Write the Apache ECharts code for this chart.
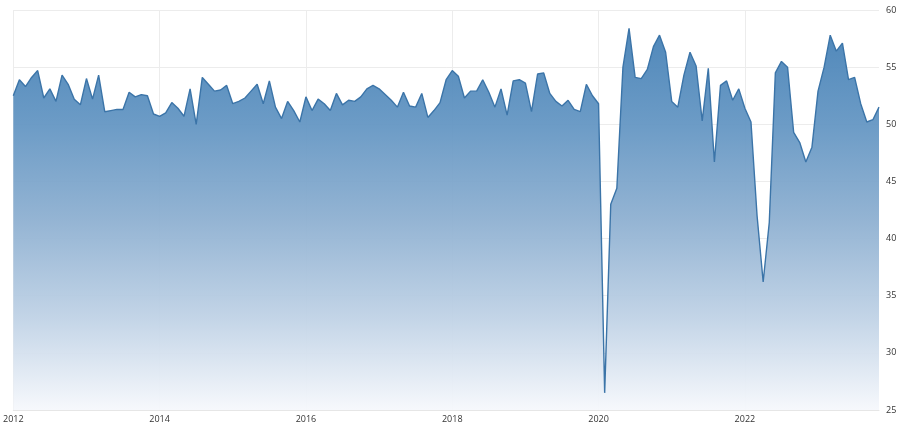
<!DOCTYPE html>
<html>
<head>
<meta charset="utf-8">
<script src="https://cdn.jsdelivr.net/npm/echarts@6/dist/echarts.min.js"></script>
<style>
  html, body { margin: 0; padding: 0; background: #fff; }
  #chart { width: 900px; height: 430px; }
</style>
</head>
<body>
<div id="chart"></div>
<script>
// monthly readings, Jan 2012 .. Nov 2023
var values2012 = [52.5, 53.9, 53.3, 54.1, 54.7, 52.3, 53.1, 52.0, 54.3, 53.5, 52.2, 51.7];
var values2013 = [54.0, 52.2, 54.3, 51.1, 51.2, 51.3, 51.3, 52.8, 52.4, 52.6, 52.5, 50.9];
var values2014 = [50.7, 51.0, 51.9, 51.4, 50.7, 53.1, 50.0, 54.1, 53.5, 52.9, 53.0, 53.4];
var values2015 = [51.8, 52.0, 52.3, 52.9, 53.5, 51.8, 53.8, 51.5, 50.5, 52.0, 51.2, 50.2];
var values2016 = [52.4, 51.2, 52.2, 51.8, 51.2, 52.7, 51.7, 52.1, 52.0, 52.4, 53.1, 53.4];
var values2017 = [53.1, 52.6, 52.1, 51.5, 52.8, 51.6, 51.5, 52.7, 50.6, 51.2, 51.9, 53.9];
var values2018 = [54.7, 54.2, 52.3, 52.9, 52.9, 53.9, 52.8, 51.5, 53.1, 50.8, 53.8, 53.9];
var values2019 = [53.6, 51.1, 54.4, 54.5, 52.7, 52.0, 51.6, 52.1, 51.3, 51.1, 53.5, 52.5];
var values2020 = [51.8, 26.5, 43.0, 44.4, 55.0, 58.4, 54.1, 54.0, 54.8, 56.8, 57.8, 56.3];
var values2021 = [52.0, 51.5, 54.3, 56.3, 55.1, 50.3, 54.9, 46.7, 53.4, 53.8, 52.1, 53.1];
var values2022 = [51.4, 50.2, 42.0, 36.2, 41.4, 54.5, 55.5, 55.0, 49.3, 48.4, 46.7, 48.0];
var values2023 = [52.9, 55.0, 57.8, 56.4, 57.1, 53.9, 54.1, 51.8, 50.2, 50.4, 51.5];

var startYear = 2012;
var values = [].concat(values2012, values2013, values2014, values2015, values2016,
  values2017, values2018, values2019, values2020, values2021, values2022, values2023);

// category per month, label only on Jan of even years
var months = values.map(function (v, i) {
  var y = startYear + Math.floor(i / 12);
  var m = i % 12 + 1;
  return y + '-' + (m < 10 ? '0' + m : m);
});
var tickYears = ['2012', '2014', '2016', '2018', '2020', '2022'];

function isTick(index) {
  return index % 12 === 0 && tickYears.indexOf(String(startYear + index / 12)) >= 0;
}

var myChart = echarts.init(document.getElementById('chart'));
var option = {
  animation: false,
  backgroundColor: '#ffffff',
  grid: { left: 10, right: 21, top: 10, bottom: 20 },
  xAxis: {
    type: 'category',
    data: months,
    boundaryGap: false,
    axisLine: { show: true, lineStyle: { color: '#e6e6e6' } },
    axisTick: { show: false },
    axisLabel: {
      interval: function (index) { return isTick(index); },
      formatter: function (val) { return val.slice(0, 4); },
      color: '#333',
      fontSize: 9,
      fontFamily: 'Open Sans',
      margin: 5
    },
    splitLine: {
      show: true,
      interval: function (index) { return isTick(index); },
      lineStyle: { color: '#ececec', width: 1 }
    }
  },
  yAxis: {
    type: 'value',
    position: 'right',
    min: 25,
    max: 60,
    interval: 5,
    axisLine: { show: false },
    axisTick: { show: false },
    axisLabel: { color: '#333', fontSize: 9, fontFamily: 'Open Sans', margin: 7 },
    splitLine: { lineStyle: { color: '#ececec', width: 1 } }
  },
  series: [{
    type: 'line',
    data: values,
    symbol: 'none',
    lineStyle: { color: '#3b74a8', width: 1.4 },
    areaStyle: {
      origin: 'start',
      opacity: 0.95,
      color: new echarts.graphic.LinearGradient(0, 0, 0, 1, [
        { offset: 0, color: '#4681b6' },
        { offset: 0.25, color: '#6496c3' },
        { offset: 0.5, color: '#8eb0d1' },
        { offset: 0.75, color: '#bed1e5' },
        { offset: 1, color: '#f6f8fc' }
      ])
    }
  }]
};
myChart.setOption(option);
</script>
</body>
</html>
